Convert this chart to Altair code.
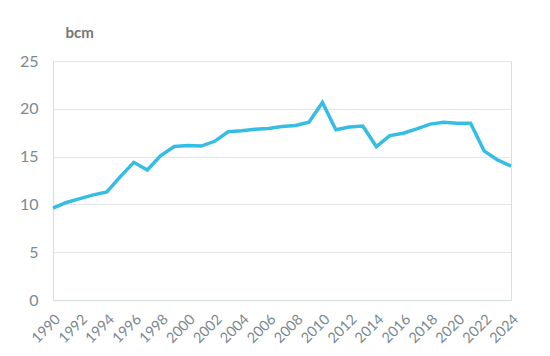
import altair as alt
import pandas as pd

years = list(range(1990, 2025))
values = [9.6, 10.2, 10.6, 11.0, 11.3, 12.9, 14.4, 13.6, 15.1, 16.05,
          16.15, 16.1, 16.6, 17.6, 17.7, 17.85, 17.95, 18.15, 18.25, 18.6,
          20.66, 17.8, 18.1, 18.2, 16.05, 17.2, 17.45, 17.9, 18.4, 18.6,
          18.5, 18.5, 15.6, 14.66, 14.0]
x_ticks = list(range(1990, 2025, 2))
y_ticks = [0, 5, 10, 15, 20, 25]

df = pd.DataFrame({"year": years, "value": values})

FONT = "Lato"
GREY = "#7b8a90"

chart = alt.Chart(df).mark_line(color="#35bde3", strokeWidth=3.5).encode(
    x=alt.X("year:Q",
            scale=alt.Scale(domain=[1990, 2024], nice=False, zero=False),
            axis=alt.Axis(values=x_ticks, format="d", labelAngle=-45, title=None,
                          grid=False, ticks=False, domain=True, domainColor="#dde3e5",
                          domainWidth=1.5,
                          labelColor=GREY, labelFont=FONT, labelFontSize=14.5,
                          labelPadding=12, labelOverlap=False)),
    y=alt.Y("value:Q",
            scale=alt.Scale(domain=[0, 25], nice=False),
            axis=alt.Axis(values=y_ticks, title="bcm", titleAngle=0, titleAlign="left",
                          titleBaseline="alphabetic", titleX=12, titleY=-24,
                          titleFont=FONT, titleFontSize=15, titleFontWeight="bold",
                          titleColor="#767676",
                          grid=True, gridColor="#e3e7e8", ticks=False, domain=False,
                          labelColor=GREY, labelFont=FONT, labelFontSize=16,
                          labelPadding=15)),
).properties(
    width=458, height=239,
    autosize=alt.AutoSizeParams(type="none"),
    padding={"left": 45, "top": 53, "right": 31, "bottom": 48},
).configure_view(
    fill="#fafafa", stroke="#e3e7e8", strokeWidth=1.5
).configure(background="white")

chart.save("out.html", embed_options={"renderer": "svg", "actions": False})
